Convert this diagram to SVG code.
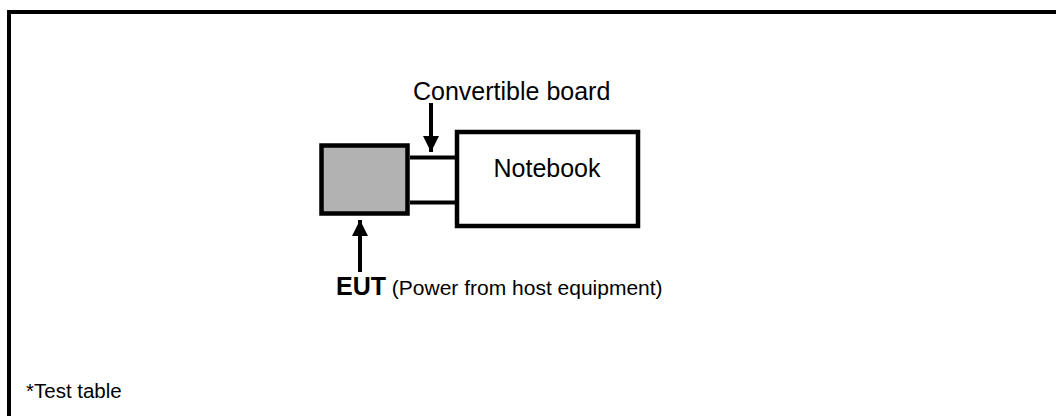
<svg xmlns="http://www.w3.org/2000/svg" width="1056" height="416" viewBox="0 0 1056 416">
<defs>
<style>
.t{font-family:"Liberation Sans",Arial,sans-serif;fill:#000}
.box{stroke:#000;stroke-width:4.5}
.ln{stroke:#000;stroke-width:4;fill:none}
</style>
<marker id="ah" viewBox="0 0 16 16" refX="16" refY="8" markerWidth="16" markerHeight="16" markerUnits="userSpaceOnUse" orient="auto">
<path d="M0,0 L16,8 L0,16 Z" fill="#000"/>
</marker>
</defs>
<rect width="1056" height="416" fill="#fff"/>
<g id="frame">
<path d="M9,416 V12 H1056" class="ln"/>
</g>
<g id="connectors">
<line x1="410" y1="157.5" x2="455" y2="157.5" class="ln"/>
<line x1="410" y1="202.5" x2="455" y2="202.5" class="ln"/>
<line x1="431" y1="103" x2="431" y2="152" class="ln" marker-end="url(#ah)"/>
<line x1="360" y1="272" x2="360" y2="220" class="ln" marker-end="url(#ah)"/>
</g>
<g id="eut">
<rect x="321.5" y="145.5" width="86" height="68" fill="#b2b2b2" class="box"/>
</g>
<g id="notebook">
<rect x="457" y="132" width="181" height="94" fill="#fff" class="box"/>
<text x="547" y="177" font-size="25" text-anchor="middle" class="t">Notebook</text>
</g>
<g id="labels">
<text x="413" y="100" font-size="25" class="t">Convertible board</text>
<text x="336" y="295" class="t"><tspan font-size="25" font-weight="bold">EUT</tspan><tspan font-size="21"> (Power from host equipment)</tspan></text>
<text x="26" y="398" font-size="20.5" class="t">*Test table</text>
</g>
</svg>
